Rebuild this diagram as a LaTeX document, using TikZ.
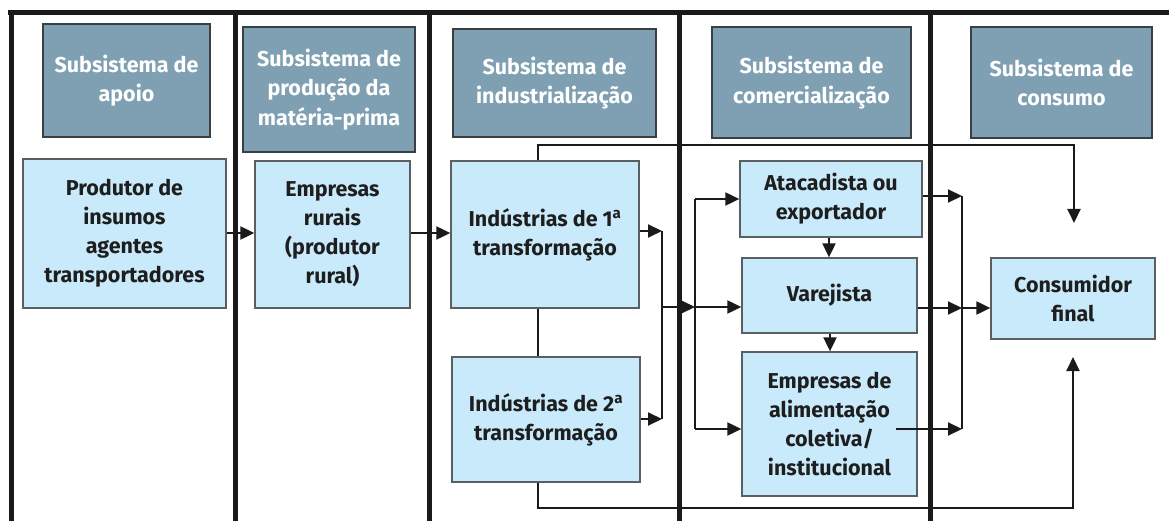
\documentclass[tikz,border=0pt]{standalone}
\usepackage{fontspec}
\setmainfont{Fira Sans}
\usetikzlibrary{arrows.meta,calc}
\definecolor{hdrfill}{HTML}{7FA0B2}
\definecolor{hdrdraw}{HTML}{3A3F42}
\definecolor{boxfill}{HTML}{C9EAFB}
\definecolor{boxdraw}{HTML}{5A5F62}
\definecolor{txt}{HTML}{1E1E1E}
\definecolor{ink}{HTML}{1A1A1A}
\tikzset{
  hdr/.style={draw=hdrdraw, line width=1.3pt, fill=hdrfill, inner sep=0pt, align=center,
    text=white, font=\bfseries\fontsize{21.5}{29.5}\selectfont},
  bx/.style={draw=boxdraw, line width=1.3pt, fill=boxfill, inner sep=0pt, align=center,
    text=txt, font=\bfseries\fontsize{21.5}{29}\selectfont},
  conn/.style={draw=ink, line width=2pt},
  arr/.style={conn, -{Triangle[length=14pt,width=13pt]}},
  sep/.style={draw=ink, line width=5pt}
}
\newcommand{\ordsup}{\textsuperscript{a}}
\begin{document}
\begin{tikzpicture}[x=1pt,y=-1pt]
\useasboundingbox (0,0) rectangle (1169,521);
% headers
\node[hdr, minimum width=167, minimum height=113] (H1) at (126.5,80.5) {Subsistema de\\apoio};
\node[hdr, minimum width=172, minimum height=125] (H2) at (329,89.5) {Subsistema de\\produção da\\matéria-prima};
\node[hdr, minimum width=203, minimum height=108] (H3) at (554.5,83) {Subsistema de\\industrialização};
\node[hdr, minimum width=199, minimum height=111] (H4) at (811.5,82.5) {Subsistema de\\comercialização};
\node[hdr, minimum width=181, minimum height=111] (H5) at (1061.5,82.5) {Subsistema de\\consumo};
% boxes
\node[bx, minimum width=203, minimum height=149] (B1) at (124.5,233.5) {Produtor de\\insumos\\agentes\\transportadores};
\node[bx, minimum width=155, minimum height=147] (B2) at (332.5,234.5) {Empresas\\rurais\\(produtor\\rural)};
\node[bx, minimum width=188, minimum height=147] (B3) at (545,234.5) {Indústrias de 1\ordsup\\transformação};
\node[bx, minimum width=188, minimum height=125] (B4) at (546,419.5) {Indústrias de 2\ordsup\\transformação};
\node[bx, minimum width=182, minimum height=76] (B5) at (831,199) {Atacadista ou\\exportador};
\node[bx, minimum width=175, minimum height=75] (B6) at (829.5,295.5) {Varejista};
\node[bx, minimum width=175, minimum height=144] (B7) at (829.5,424) {Empresas de\\alimentação\\coletiva/\\institucional};
\node[bx, minimum width=164, minimum height=81] (B8) at (1073,298.5) {Consumidor\\final};
% coordinates
\coordinate (ja) at (662,231);
\coordinate (jb) at (662,419);
\coordinate (jm) at (662,307);
\coordinate (ka) at (695,199);
\coordinate (kb) at (695,429);
\coordinate (km) at (695,307);
\coordinate (la) at (962,196);
\coordinate (lb) at (962,429);
\coordinate (lm) at (962,308);
\coordinate (topl) at (538,145);
\coordinate (topr) at (1074,145);
\coordinate (toptip) at (1074,223);
\coordinate (botl) at (538,508);
\coordinate (botr) at (1073,508);
\coordinate (bottip) at (1073,357);
% connectors
\draw[arr] (B1.east |- 0,233) -- (B2.west |- 0,233);
\draw[arr] (B2.east |- 0,233) -- (B3.west |- 0,233);
\draw[arr] (B3.north -| topl) -- (topl) -- (topr) -- (toptip);
\draw[conn] (B3.south -| topl) -- (B4.north -| topl);
\draw[arr] (B4.south -| botl) -- (botl) -- (botr) -- (bottip);
\draw[arr] (B3.east |- ja) -- (ja);
\draw[arr] (B4.east |- jb) -- (jb);
\draw[conn] (ja) -- (jb);
\draw[arr] (jm) -- (km);
\draw[conn] (ka) -- (kb);
\draw[arr] (ka) -- (B5.west |- ka);
\draw[arr] (km) -- (B6.west |- km);
\draw[arr] (kb) -- (B7.west |- kb);
\draw[arr] (B5.south -| 829,0) -- (B6.north -| 829,0);
\draw[arr] (B6.south -| 830,0) -- (B7.north -| 830,0);
\draw[arr] (B5.east |- la) -- (la);
\draw[arr] (B6.east |- lm) -- (lm);
\draw[arr] ([xshift=-22pt]B7.east |- lb) -- (lb);
\draw[conn] (la) -- (lb);
\draw[arr] (lm) -- (B8.west |- lm);
% separators
\draw[sep] (8,12.5) -- (1169,12.5);
\foreach \x in {11,235,429,679,930} {
  \draw[sep] (\x,10) -- (\x,521);
}
\end{tikzpicture}
\end{document}
